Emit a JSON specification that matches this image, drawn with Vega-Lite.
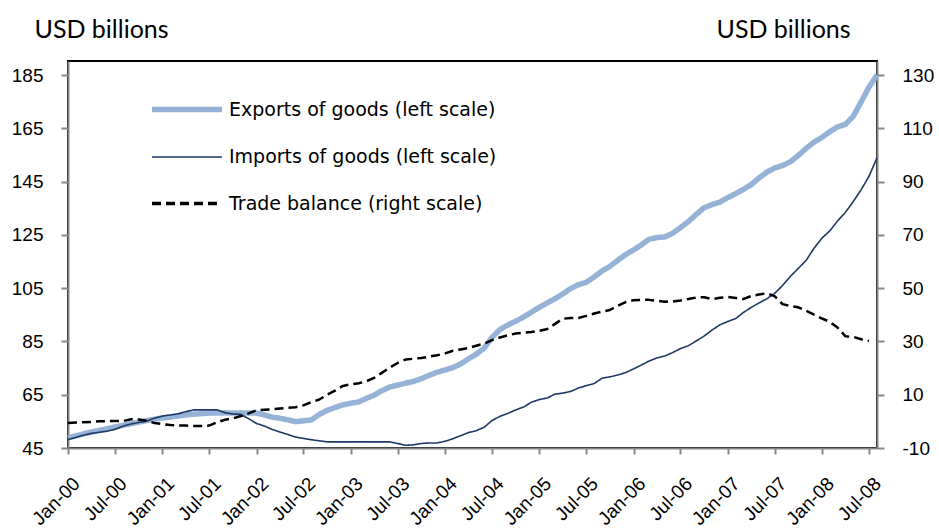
{
  "$schema": "https://vega.github.io/schema/vega-lite/v6.json",
  "width": 809,
  "height": 387,
  "autosize": {"type": "none"},
  "padding": {"left": 68, "top": 61, "right": 62, "bottom": 81},
  "background": "white",
  "config": {
    "view": {"stroke": "#000000", "strokeWidth": 2},
    "axis": {
      "domainColor": "#868686", "domainWidth": 2, "tickColor": "#868686", "tickWidth": 2,
      "labelFont": "Liberation Sans", "labelFontSize": 19, "labelColor": "#000000", "grid": false,
      "titleFont": "Lato", "titleFontSize": 25, "titleFontWeight": "normal", "titleColor": "#000000"
    }
  },
  "data": {"values": [
    {"date":"2000-01-01","exports":48.8,"imports":48.2,"balance":-0.6},
    {"date":"2000-02-01","exports":49.6,"imports":49.0,"balance":-0.4},
    {"date":"2000-03-01","exports":50.3,"imports":49.8,"balance":-0.3},
    {"date":"2000-04-01","exports":51.0,"imports":50.5,"balance":-0.2},
    {"date":"2000-05-01","exports":51.6,"imports":50.9,"balance":0.0},
    {"date":"2000-06-01","exports":52.2,"imports":51.3,"balance":0.1},
    {"date":"2000-07-01","exports":52.9,"imports":52.0,"balance":0.1},
    {"date":"2000-08-01","exports":53.5,"imports":53.2,"balance":0.1},
    {"date":"2000-09-01","exports":54.1,"imports":54.0,"balance":0.8},
    {"date":"2000-10-01","exports":54.7,"imports":54.6,"balance":0.7},
    {"date":"2000-11-01","exports":55.3,"imports":55.1,"balance":0.2},
    {"date":"2000-12-01","exports":55.8,"imports":56.2,"balance":-0.6},
    {"date":"2001-01-01","exports":56.3,"imports":57.0,"balance":-1.0},
    {"date":"2001-02-01","exports":56.6,"imports":57.4,"balance":-1.4},
    {"date":"2001-03-01","exports":57.0,"imports":57.8,"balance":-1.5},
    {"date":"2001-04-01","exports":57.4,"imports":58.6,"balance":-1.6},
    {"date":"2001-05-01","exports":57.7,"imports":59.3,"balance":-1.7},
    {"date":"2001-06-01","exports":57.9,"imports":59.3,"balance":-1.7},
    {"date":"2001-07-01","exports":58.1,"imports":59.3,"balance":-1.6},
    {"date":"2001-08-01","exports":58.1,"imports":59.3,"balance":-0.3},
    {"date":"2001-09-01","exports":58.2,"imports":58.2,"balance":0.6},
    {"date":"2001-10-01","exports":58.1,"imports":57.8,"balance":1.1},
    {"date":"2001-11-01","exports":58.2,"imports":57.6,"balance":2.0},
    {"date":"2001-12-01","exports":58.1,"imports":56.0,"balance":3.0},
    {"date":"2002-01-01","exports":58.1,"imports":54.2,"balance":4.2},
    {"date":"2002-02-01","exports":57.4,"imports":53.2,"balance":4.4},
    {"date":"2002-03-01","exports":56.6,"imports":52.0,"balance":4.5},
    {"date":"2002-04-01","exports":56.2,"imports":51.0,"balance":4.8},
    {"date":"2002-05-01","exports":55.6,"imports":50.1,"balance":5.1},
    {"date":"2002-06-01","exports":54.9,"imports":49.1,"balance":5.3},
    {"date":"2002-07-01","exports":55.2,"imports":48.6,"balance":6.0},
    {"date":"2002-08-01","exports":55.5,"imports":48.1,"balance":7.2},
    {"date":"2002-09-01","exports":57.6,"imports":47.7,"balance":8.2},
    {"date":"2002-10-01","exports":59.1,"imports":47.3,"balance":10.0},
    {"date":"2002-11-01","exports":60.2,"imports":47.3,"balance":11.5},
    {"date":"2002-12-01","exports":61.2,"imports":47.3,"balance":13.3},
    {"date":"2003-01-01","exports":61.8,"imports":47.3,"balance":13.9},
    {"date":"2003-02-01","exports":62.3,"imports":47.3,"balance":14.3},
    {"date":"2003-03-01","exports":63.6,"imports":47.3,"balance":15.0},
    {"date":"2003-04-01","exports":64.8,"imports":47.3,"balance":16.3},
    {"date":"2003-05-01","exports":66.5,"imports":47.3,"balance":18.2},
    {"date":"2003-06-01","exports":67.9,"imports":47.3,"balance":20.2},
    {"date":"2003-07-01","exports":68.6,"imports":46.7,"balance":21.9},
    {"date":"2003-08-01","exports":69.3,"imports":46.0,"balance":23.2},
    {"date":"2003-09-01","exports":70.0,"imports":46.2,"balance":23.5},
    {"date":"2003-10-01","exports":71.0,"imports":46.7,"balance":23.8},
    {"date":"2003-11-01","exports":72.3,"imports":46.9,"balance":24.3},
    {"date":"2003-12-01","exports":73.4,"imports":46.9,"balance":24.8},
    {"date":"2004-01-01","exports":74.3,"imports":47.5,"balance":25.5},
    {"date":"2004-02-01","exports":75.2,"imports":48.5,"balance":26.5},
    {"date":"2004-03-01","exports":76.5,"imports":49.6,"balance":27.0},
    {"date":"2004-04-01","exports":78.5,"imports":50.8,"balance":27.5},
    {"date":"2004-05-01","exports":80.2,"imports":51.5,"balance":28.4},
    {"date":"2004-06-01","exports":82.5,"imports":52.8,"balance":29.2},
    {"date":"2004-07-01","exports":86.5,"imports":55.3,"balance":30.5},
    {"date":"2004-08-01","exports":89.5,"imports":56.9,"balance":31.5},
    {"date":"2004-09-01","exports":91.2,"imports":58.0,"balance":32.3},
    {"date":"2004-10-01","exports":92.6,"imports":59.3,"balance":33.0},
    {"date":"2004-11-01","exports":94.2,"imports":60.4,"balance":33.3},
    {"date":"2004-12-01","exports":96.0,"imports":62.2,"balance":33.5},
    {"date":"2005-01-01","exports":97.8,"imports":63.2,"balance":34.0},
    {"date":"2005-02-01","exports":99.5,"imports":63.8,"balance":34.7},
    {"date":"2005-03-01","exports":101.0,"imports":65.2,"balance":36.5},
    {"date":"2005-04-01","exports":102.8,"imports":65.6,"balance":38.5},
    {"date":"2005-05-01","exports":104.8,"imports":66.2,"balance":38.8},
    {"date":"2005-06-01","exports":106.3,"imports":67.5,"balance":38.8},
    {"date":"2005-07-01","exports":107.2,"imports":68.4,"balance":39.6},
    {"date":"2005-08-01","exports":109.2,"imports":69.2,"balance":40.5},
    {"date":"2005-09-01","exports":111.5,"imports":71.2,"balance":41.2},
    {"date":"2005-10-01","exports":113.2,"imports":71.7,"balance":41.8},
    {"date":"2005-11-01","exports":115.5,"imports":72.4,"balance":43.4},
    {"date":"2005-12-01","exports":117.6,"imports":73.3,"balance":44.8},
    {"date":"2006-01-01","exports":119.4,"imports":74.7,"balance":45.5},
    {"date":"2006-02-01","exports":121.3,"imports":76.2,"balance":45.6},
    {"date":"2006-03-01","exports":123.3,"imports":77.6,"balance":45.6},
    {"date":"2006-04-01","exports":124.0,"imports":78.8,"balance":45.3},
    {"date":"2006-05-01","exports":124.2,"imports":79.5,"balance":44.9},
    {"date":"2006-06-01","exports":125.6,"imports":80.8,"balance":45.0},
    {"date":"2006-07-01","exports":127.7,"imports":82.3,"balance":45.4},
    {"date":"2006-08-01","exports":130.0,"imports":83.4,"balance":45.9},
    {"date":"2006-09-01","exports":132.7,"imports":85.2,"balance":46.5},
    {"date":"2006-10-01","exports":135.2,"imports":87.0,"balance":46.6},
    {"date":"2006-11-01","exports":136.4,"imports":89.3,"balance":45.9},
    {"date":"2006-12-01","exports":137.3,"imports":91.2,"balance":46.4},
    {"date":"2007-01-01","exports":139.0,"imports":92.5,"balance":46.7},
    {"date":"2007-02-01","exports":140.5,"imports":93.6,"balance":46.3},
    {"date":"2007-03-01","exports":142.0,"imports":95.8,"balance":45.9},
    {"date":"2007-04-01","exports":143.8,"imports":97.7,"balance":47.0},
    {"date":"2007-05-01","exports":146.3,"imports":99.4,"balance":47.6},
    {"date":"2007-06-01","exports":148.5,"imports":101.0,"balance":48.1},
    {"date":"2007-07-01","exports":150.1,"imports":103.0,"balance":47.0},
    {"date":"2007-08-01","exports":151.0,"imports":106.0,"balance":44.0},
    {"date":"2007-09-01","exports":152.5,"imports":109.5,"balance":43.3},
    {"date":"2007-10-01","exports":154.8,"imports":112.4,"balance":42.8},
    {"date":"2007-11-01","exports":157.5,"imports":115.5,"balance":41.5},
    {"date":"2007-12-01","exports":159.8,"imports":120.0,"balance":40.1},
    {"date":"2008-01-01","exports":161.6,"imports":123.8,"balance":38.6},
    {"date":"2008-02-01","exports":163.8,"imports":126.6,"balance":37.3},
    {"date":"2008-03-01","exports":165.5,"imports":130.2,"balance":35.2},
    {"date":"2008-04-01","exports":166.5,"imports":133.5,"balance":31.9},
    {"date":"2008-05-01","exports":169.5,"imports":137.5,"balance":31.7},
    {"date":"2008-06-01","exports":175.0,"imports":142.0,"balance":30.8},
    {"date":"2008-07-01","exports":180.5,"imports":147.0,"balance":30.2},
    {"date":"2008-08-01","exports":185.0,"imports":153.9}
  ]},
  "encoding": {
    "x": {
      "field": "date", "type": "temporal",
      "scale": {"type": "utc", "domain": [{"year": 2000, "month": 1, "date": 1, "utc": true}, {"year": 2008, "month": 8, "date": 1, "utc": true}]},
      "axis": {"title": null, "format": "%b-%y", "tickCount": {"interval": "month", "step": 6}, "labelAngle": -45, "tickSize": 6, "labelPadding": 20, "labelOffset": 2, "labelAlign": "right", "labelBaseline": "top", "labelBound": false, "labelOverlap": false, "labelFlush": false}
    }
  },
  "layer": [
    {
      "transform": [{"fold": ["exports", "imports"], "as": ["series", "value"]}],
      "mark": {"type": "line", "strokeJoin": "round", "clip": false},
      "encoding": {
        "y": {
          "field": "value", "type": "quantitative",
          "scale": {"domain": [45, 190.26], "nice": false, "zero": false},
          "axis": {"orient": "left", "values": [45, 65, 85, 105, 125, 145, 165, 185], "tickSize": 7, "labelPadding": 18,
            "title": "USD billions", "titleAngle": 0, "titleAlign": "left", "titleBaseline": "alphabetic", "titleX": -34, "titleY": -24}
        },
        "color": {"field": "series", "type": "nominal",
          "scale": {"domain": ["exports", "imports", "balance"], "range": ["#95b3d7", "#1f3864", "#000000"]},
          "legend": {"orient": "none", "legendX": 81.5, "legendY": 39, "title": null, "padding": 0, "symbolType": "stroke", "symbolSize": 4900, "symbolOffset": 28, "labelOffset": 32.5, "rowPadding": 26.5, "labelFont": "DejaVu Sans", "labelFontSize": 19, "labelColor": "#000000", "labelLimit": 0,
            "labelExpr": "datum.value == 'exports' ? 'Exports of goods (left scale)' : datum.value == 'imports' ? 'Imports of goods (left scale)' : 'Trade balance (right scale)'",
            "encode": {"symbols": {"update": {"strokeWidth": {"signal": "datum.value == 'exports' ? 5.5 : datum.value == 'imports' ? 1.6 : 3.6"}}}}}},
        "strokeWidth": {"field": "series", "type": "nominal", "scale": {"type": "ordinal", "domain": ["exports", "imports", "balance"], "range": [5.5, 1.6, 3.6]}},
        "strokeDash": {"field": "series", "type": "nominal", "scale": {"domain": ["exports", "imports", "balance"], "range": [[1, 0], [1, 0], [9, 5]]}}
      }
    },
    {
      "transform": [{"fold": ["balance"], "as": ["series", "value"]}],
      "mark": {"type": "line", "strokeJoin": "round", "clip": false},
      "encoding": {
        "y": {
          "field": "value", "type": "quantitative",
          "scale": {"domain": [-10, 135.26], "nice": false, "zero": false},
          "axis": {"orient": "right", "values": [-10, 10, 30, 50, 70, 90, 110, 130], "tickSize": 7, "labelPadding": 18, "labelExpr": "'' + datum.value",
            "title": "USD billions", "titleAngle": 0, "titleAlign": "left", "titleBaseline": "alphabetic", "titleX": -161, "titleY": -24}
        },
        "color": {"field": "series", "type": "nominal"},
        "strokeWidth": {"field": "series", "type": "nominal"},
        "strokeDash": {"field": "series", "type": "nominal"}
      }
    }
  ],
  "resolve": {"scale": {"y": "independent"}}
}
